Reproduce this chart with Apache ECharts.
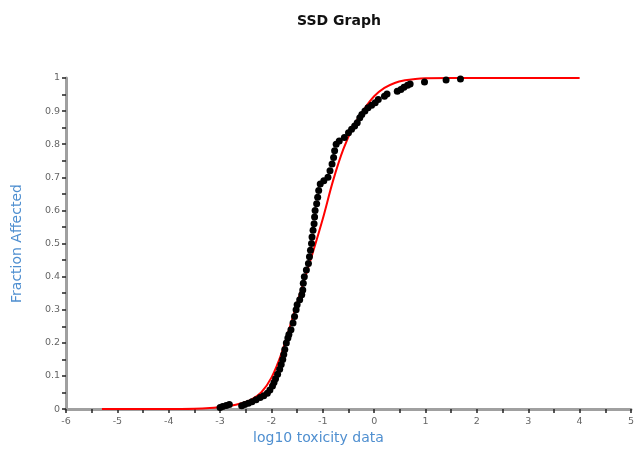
<!DOCTYPE html>
<html>
<head>
<meta charset="utf-8">
<script src="https://cdn.jsdelivr.net/npm/echarts@6/dist/echarts.min.js"></script>
<style>
  html, body { margin: 0; padding: 0; background: #fff; }
  #chart { width: 637px; height: 450px; }
</style>
</head>
<body>
<div id="chart"></div>
<script>
// observed toxicity data: [log10 toxicity, fraction affected]
var observed = [
  [-3.0, 0.005], [-2.95, 0.008], [-2.88, 0.011], [-2.82, 0.014],
  [-2.58, 0.01], [-2.52, 0.014], [-2.45, 0.018], [-2.38, 0.022],
  [-2.3, 0.028], [-2.22, 0.035], [-2.15, 0.04], [-2.08, 0.048],
  [-2.03, 0.058], [-1.98, 0.07], [-1.95, 0.08], [-1.92, 0.092],
  [-1.88, 0.105], [-1.84, 0.12], [-1.81, 0.135], [-1.78, 0.15],
  [-1.76, 0.165], [-1.74, 0.18], [-1.71, 0.2], [-1.68, 0.215],
  [-1.66, 0.225], [-1.62, 0.24], [-1.58, 0.26], [-1.55, 0.28],
  [-1.52, 0.3], [-1.5, 0.315], [-1.45, 0.33], [-1.41, 0.345],
  [-1.39, 0.36], [-1.38, 0.38], [-1.36, 0.4], [-1.32, 0.42],
  [-1.28, 0.44], [-1.26, 0.46], [-1.24, 0.48], [-1.22, 0.5],
  [-1.21, 0.52], [-1.19, 0.54], [-1.17, 0.56], [-1.16, 0.58],
  [-1.15, 0.6], [-1.12, 0.62], [-1.1, 0.64], [-1.08, 0.66],
  [-1.05, 0.68], [-0.98, 0.69], [-0.9, 0.7], [-0.86, 0.72],
  [-0.82, 0.74], [-0.79, 0.76], [-0.77, 0.78], [-0.74, 0.8],
  [-0.68, 0.81], [-0.58, 0.82], [-0.5, 0.835], [-0.44, 0.845],
  [-0.38, 0.855], [-0.33, 0.865], [-0.28, 0.88], [-0.24, 0.89],
  [-0.18, 0.9], [-0.12, 0.91], [-0.05, 0.918], [0.02, 0.925],
  [0.08, 0.935], [0.2, 0.945], [0.25, 0.952], [0.45, 0.96],
  [0.52, 0.965], [0.58, 0.972], [0.65, 0.978], [0.7, 0.982],
  [0.98, 0.988], [1.4, 0.994], [1.68, 0.997]
];

// fitted SSD curve
var fitted = [
  [-5.3, 0], [-4.5, 0], [-4.0, 0], [-3.5, 0.001], [-3.2, 0.003],
  [-3.0, 0.006], [-2.8, 0.01], [-2.6, 0.017], [-2.4, 0.028],
  [-2.2, 0.05], [-2.0, 0.095], [-1.8, 0.17], [-1.6, 0.27],
  [-1.4, 0.37], [-1.2, 0.47], [-1.0, 0.575], [-0.8, 0.69],
  [-0.6, 0.785], [-0.4, 0.855], [-0.2, 0.905], [0.0, 0.945],
  [0.2, 0.97], [0.4, 0.985], [0.6, 0.993], [0.8, 0.997],
  [1.0, 0.999], [1.5, 1], [2.0, 1], [3.0, 1], [4.0, 1]
];

var chart = echarts.init(document.getElementById('chart'));
chart.setOption({
  animation: false,
  textStyle: { fontFamily: 'DejaVu Sans' },
  title: {
    text: 'SSD Graph',
    left: 292,
    top: 9,
    textStyle: { fontSize: 14, fontWeight: 'bold', color: '#111', fontFamily: 'DejaVu Sans' }
  },
  grid: { left: 66, right: 2, top: 78, bottom: 37 },
  xAxis: {
    type: 'value',
    min: -6,
    max: 5,
    interval: 1,
    name: 'log10 toxicity data',
    nameLocation: 'middle',
    nameGap: 21,
    nameTextStyle: { color: '#4f8fd0', fontSize: 14, padding: [0, 60, 0, 0] },
    axisLine: { onZero: false, lineStyle: { color: '#a0a0a0', width: 3 } },
    axisTick: { inside: false, length: 4, lineStyle: { color: '#222', width: 1.5 } },
    minorTick: { show: true, splitNumber: 2, length: 4, lineStyle: { color: '#222', width: 1.5 } },
    axisLabel: { color: '#666', fontSize: 9.5, margin: 7 },
    splitLine: { show: false }
  },
  yAxis: {
    type: 'value',
    min: 0,
    max: 1,
    interval: 0.1,
    name: 'Fraction Affected',
    nameLocation: 'middle',
    nameGap: 42,
    nameTextStyle: { color: '#4f8fd0', fontSize: 14 },
    axisLine: { show: true, onZero: false, lineStyle: { color: '#a0a0a0', width: 3 } },
    axisTick: { show: true, length: 4, lineStyle: { color: '#222', width: 1.5 } },
    minorTick: { show: true, splitNumber: 2, length: 4, lineStyle: { color: '#222', width: 1.5 } },
    axisLabel: { color: '#666', fontSize: 9.5, margin: 6 },
    splitLine: { show: false }
  },
  series: [
    {
      name: 'fitted',
      type: 'line',
      data: fitted,
      showSymbol: false,
      smooth: 0.3,
      lineStyle: { color: '#ff0000', width: 2 },
      z: 2
    },
    {
      name: 'observed',
      type: 'scatter',
      data: observed,
      symbolSize: 7,
      itemStyle: { color: '#000', opacity: 1 },
      z: 3
    }
  ]
});
</script>
</body>
</html>
